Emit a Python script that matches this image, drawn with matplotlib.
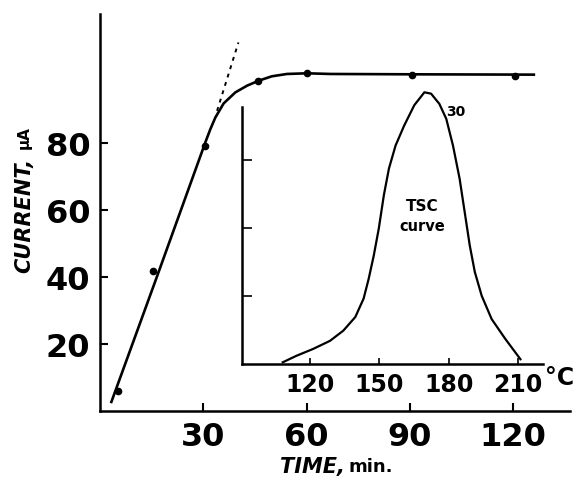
# Current vs time with inset TSC curve

import matplotlib.pyplot as plt

# main curve (current in uA vs time in min)
time_pts = [5.3, 15.5, 30.6, 46, 60.2, 90.7, 120.5]
current_pts = [6, 41.8, 79, 98.5, 101, 100.3, 100]
time_curve = [3.3, 16.5, 28.6, 30.6, 32.0, 33.5, 35.9, 39.3, 42.7,
              46.1, 49.9, 54.3, 60.1, 66.9, 90, 126]
current_curve = [2.7, 40.0, 74.5, 80.2, 84.0, 87.6, 91.8, 95.1, 97.1,
                 98.6, 99.9, 100.6, 100.8, 100.6, 100.5, 100.4]
tangent_t = [34, 40.2]
tangent_i = [89.6, 110]

# inset TSC curve (temperature in C vs arbitrary current)
temp = [108.0, 113.9, 121.1, 128.5, 134.3, 139.5, 143.1, 145.3, 147.5, 149.7,
        151.9, 154.1, 157.0, 160.7, 165.1, 169.5, 172.4, 176.0, 179.0, 181.9,
        184.8, 187.0, 189.2, 191.4, 194.4, 198.7, 204.6, 211.2]
tsc = [0.025, 0.12, 0.22, 0.34, 0.49, 0.69, 0.96, 1.25, 1.59, 1.99,
       2.48, 2.87, 3.21, 3.50, 3.80, 3.99, 3.97, 3.82, 3.60, 3.21,
       2.72, 2.23, 1.74, 1.35, 1.00, 0.66, 0.37, 0.07]

W, H = 573, 481
fig = plt.figure(figsize=(W / 100, H / 100), dpi=100)

# main axes
ax = fig.add_axes([100 / W, (H - 412) / H, 470 / W, 397 / H])
ax.plot(time_curve, current_curve, color='black', lw=1.9, solid_joinstyle='round')
ax.plot(time_pts, current_pts, 'o', color='black', ms=4.5)
ax.plot(tangent_t, tangent_i, color='black', lw=1.4, ls=(0, (2, 2.5)))
ax.set_xlim(0, 136.5)
ax.set_ylim(0, 118.5)
ax.set_xticks([30, 60, 90, 120])
ax.set_yticks([20, 40, 60, 80])
ax.tick_params(direction='in', length=6, width=1.5, labelsize=23, pad=7)
for lbl in ax.get_xticklabels() + ax.get_yticklabels():
    lbl.set_fontweight('bold')
for s in ['top', 'right']:
    ax.spines[s].set_visible(False)
for s in ['left', 'bottom']:
    ax.spines[s].set_linewidth(1.8)
ax.patch.set_alpha(0)

# inset axes
ax2 = fig.add_axes([242 / W, (H - 365) / H, 301 / W, 286 / H])
ax2.plot(temp, tsc, color='black', lw=1.6, solid_joinstyle='round')
ax2.set_xlim(90.3, 221)
ax2.set_ylim(0, 4.2)
ax2.set_xticks([120, 150, 180, 210])
ax2.set_xticklabels(['120', '150', '180', '210'])
ax2.set_yticks([1, 2, 3])
ax2.set_yticklabels([])
ax2.tick_params(axis='x', direction='in', length=4, width=1.2, labelsize=17, pad=6)
ax2.tick_params(axis='y', direction='in', length=7, width=1.2)
for lbl in ax2.get_xticklabels():
    lbl.set_fontweight('bold')
for s in ['top', 'right']:
    ax2.spines[s].set_visible(False)
ax2.spines['left'].set_bounds(0, 3.78)
ax2.spines['left'].set_linewidth(1.8)
ax2.spines['bottom'].set_linewidth(1.8)
ax2.patch.set_alpha(0)
ax2.text(179, 3.72, '30', fontsize=10, fontweight='bold', ha='left', va='center')
ax2.text(168.7, 2.33, 'TSC', fontsize=11, fontweight='bold', ha='center', va='center')
ax2.text(168.7, 2.03, 'curve', fontsize=10.5, fontweight='bold', ha='center', va='center')

fig.text(545 / W, 1 - 378 / H, '°C', fontsize=17, fontweight='bold', ha='left', va='center')

# axis labels
fig.text(24 / W, 1 - 215 / H, 'CURRENT,', rotation=90, fontsize=15,
         fontweight='bold', style='italic', ha='center', va='center')
fig.text(24 / W, 1 - 138 / H, 'μA', rotation=90, fontsize=11,
         fontweight='bold', ha='center', va='center')
fig.text(345 / W, 1 - 467 / H, 'TIME,', fontsize=15, fontweight='bold',
         style='italic', ha='right', va='center')
fig.text(349 / W, 1 - 467 / H, 'min.', fontsize=13, fontweight='bold',
         ha='left', va='center')

plt.savefig('out.png', dpi=100)
